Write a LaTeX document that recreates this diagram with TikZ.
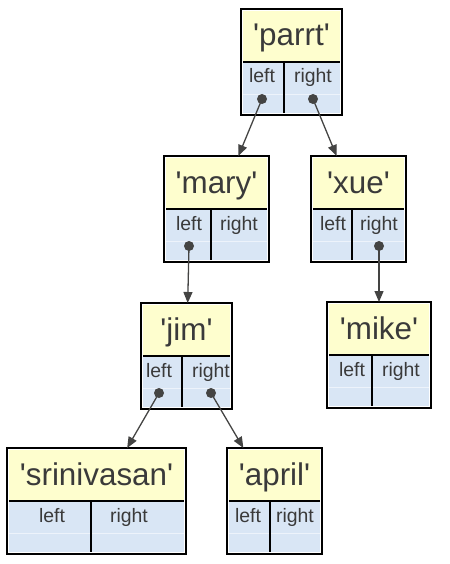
\documentclass[tikz,border=0pt]{standalone}
\usepackage{fontspec}
\setmainfont{Liberation Sans}
\usetikzlibrary{arrows.meta}
\definecolor{txt}{HTML}{444443}
\definecolor{ctext}{HTML}{3A3A3A}
\definecolor{cyel}{HTML}{FEFECE}
\definecolor{cblue}{HTML}{D9E6F5}
\definecolor{crow}{HTML}{EDF3FB}
\tikzset{
  tbox/.style={draw=black, line width=1.3bp, inner sep=0pt, outer sep=0pt, minimum height=106bp, anchor=north west},
  ttl/.style={text=ctext, font=\fontsize{31.5}{31.5}\selectfont, anchor=base, inner sep=0pt},
  lbl/.style={text=ctext, font=\fontsize{19.5}{19.5}\selectfont, anchor=base, inner sep=0pt},
  sepline/.style={black, line width=1.3bp},
  rowline/.style={crow, line width=0.8bp},
  edge/.style={draw=txt, line width=1.3bp, -{Triangle[length=11bp,width=9bp]}},
  port/.style={fill=txt, circle, inner sep=0pt, minimum size=10bp}
}
% #1 name, #2 title, #3 L, #4 R, #5 T, #6 divider x, #7 left label x, #8 right label x
\newcommand\TNode[8]{%
  \fill[cyel] ({#3+2},{#5+2}) rectangle ({#4-2},{#5+53});
  \fill[cblue] ({#3+2},{#5+53}) rectangle ({#4-2},{#5+104});
  \draw[rowline] ({#3+2},{#5+85}) -- ({#4-2},{#5+85});
  \draw[sepline] ({#3+2},{#5+53}) -- ({#4-2},{#5+53});
  \draw[sepline] (#6,{#5+53}) -- (#6,{#5+104});
  \node[tbox, minimum width={(#4-#3)*1bp}] (#1) at (#3,#5) {};
  \node[ttl] (#1-t) at ({(#3+#4)/2},{#5+37}) {\textquotesingle#2\textquotesingle};
  \node[lbl] (#1-ll) at (#7,{#5+74}) {left};
  \node[lbl] (#1-lr) at (#8,{#5+74}) {right};
}
\begin{document}
\begin{tikzpicture}[x=1bp,y=-1bp]
\useasboundingbox (0,0) rectangle (450,564);
\TNode{parrt}{parrt}{241}{342}{9}{284}{262}{313}
\TNode{mary}{mary}{164}{269}{156}{211}{189}{239}
\TNode{xue}{xue}{311}{406}{156}{352}{333}{379}
\TNode{jim}{jim}{141}{232}{303}{182}{159}{211}
\TNode{mike}{mike}{327}{431}{302}{372}{352}{401}
\TNode{srin}{srinivasan}{7}{186}{448}{91}{52}{129}
\TNode{april}{april}{227}{322}{448}{270}{248}{295}
% ports
\node[port] (parrt-pl) at (262,99) {};
\node[port] (parrt-pr) at (313,99) {};
\node[port] (mary-pl) at (189,246) {};
\node[port] (xue-pr) at (379,246) {};
\node[port] (jim-pl) at (159,393) {};
\node[port] (jim-pr) at (211,393) {};
% edges
\draw[edge] (parrt-pl.center) -- (mary);
\draw[edge] (parrt-pr.center) -- (xue);
\draw[edge] (mary-pl.center) -- (jim);
\draw[edge] (xue-pr.center) -- (mike);
\draw[edge] (jim-pl.center) -- (srin);
\draw[edge] (jim-pr.center) -- (april);
\end{tikzpicture}
\end{document}
